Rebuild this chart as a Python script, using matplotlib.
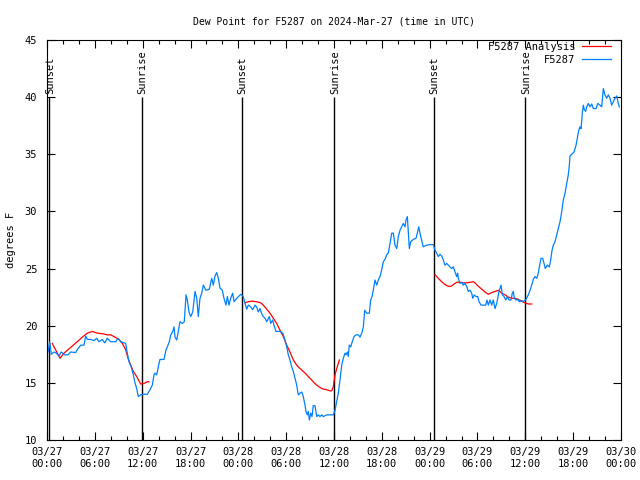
import matplotlib
matplotlib.use("Agg")
import matplotlib.pyplot as plt
import numpy as np

# hours since 2024-03-27 00:00 UTC
obs_hours = [0.13, 0.34, 0.54, 0.88, 1.17, 1.5, 1.79, 2.22, 2.63, 2.97, 3.6, 3.8, 4.23, 4.64, 4.85,
             5.06, 5.48, 5.9, 6.23, 6.52, 6.94, 7.24, 7.56, 7.99, 8.62, 8.91, 9.24, 9.87, 10.07, 10.29,
             10.57, 10.83, 11.0, 11.25, 11.45, 11.75, 12.17, 12.58, 12.92, 13.21, 13.42, 13.55, 13.76,
             13.96, 14.17, 14.68, 14.93, 15.09, 15.34, 15.52, 15.77, 15.93, 16.06, 16.27, 16.47, 16.68,
             16.97, 17.22, 17.44, 17.6, 17.81, 18.03, 18.28, 18.57, 18.78, 18.98, 19.19, 19.41, 19.61,
             19.94, 20.36, 20.66, 20.86, 21.07, 21.29, 21.49, 21.7, 21.99, 22.2, 22.45, 22.62, 22.83,
             23.04, 23.29, 23.46, 23.8, 24.3, 24.62, 24.84, 25.05, 25.25, 25.55, 25.8, 26.09, 26.3,
             26.5, 26.72, 26.93, 27.13, 27.35, 27.56, 27.89, 28.06, 28.31, 28.47, 28.73, 29.23, 29.57,
             29.85, 30.07, 30.27, 30.48, 30.69, 30.9, 31.11, 31.32, 31.52, 31.74, 31.95, 32.15, 32.36,
             32.49, 32.65, 32.78, 32.9, 33.08, 33.24, 33.4, 33.62, 33.83, 34.03, 34.24, 34.46, 34.66,
             35.08, 35.91, 36.0, 36.13, 36.34, 36.54, 36.75, 36.97, 37.17, 37.38, 37.51, 37.67, 37.79,
             37.92, 38.1, 38.22, 38.51, 38.76, 39.05, 39.26, 39.48, 39.68, 39.85, 40.1, 40.43, 40.6,
             40.77, 40.93, 41.14, 41.36, 41.56, 41.77, 41.98, 42.19, 42.4, 42.61, 42.81, 43.03, 43.24,
             43.44, 43.65, 43.87, 44.07, 44.28, 44.49, 44.69, 44.91, 45.03, 45.2, 45.32, 45.45, 45.62,
             45.95, 46.29, 46.45, 46.63, 46.88, 47.2, 47.63, 48.04, 48.46, 48.67, 48.88, 49.08, 49.3,
             49.51, 49.71, 49.92, 50.14, 50.34, 50.55, 50.76, 50.97, 51.18, 51.39, 51.52, 51.59, 51.81,
             52.02, 52.22, 52.43, 52.64, 52.85, 53.06, 53.27, 53.4, 53.6, 53.81, 54.03, 54.19, 54.44,
             54.73, 55.03, 55.19, 55.36, 55.57, 55.78, 55.98, 56.2, 56.41, 56.7, 56.95, 57.12, 57.33,
             57.54, 57.74, 57.95, 58.2, 58.37, 58.49, 58.62, 58.79, 59.04, 59.24, 59.55, 59.75, 59.96,
             60.09, 60.37, 60.59, 60.8, 61.0, 61.22, 61.43, 61.63, 61.76, 61.97, 62.18, 62.34, 62.51,
             62.76, 63.01, 63.18, 63.35, 63.51, 63.72, 63.94, 64.14, 64.35, 64.56, 64.76, 64.98, 65.19,
             65.39, 65.52, 65.6, 65.82, 66.11, 66.36, 66.52, 66.7, 66.86, 66.99, 67.15, 67.27, 67.4,
             67.57, 67.7, 67.9, 68.11, 68.33, 68.53, 68.87, 69.08, 69.37, 69.58, 69.78, 69.99, 70.2,
             70.41, 70.62, 70.83, 71.04, 71.25, 71.46, 71.66, 71.79]
obs_dewpt = [17.7, 18.6, 17.5, 17.7, 17.6, 17.35, 17.7, 17.45, 17.45, 17.7, 17.65, 17.9, 18.3, 18.3, 19.1,
             18.8, 18.8, 18.7, 18.9, 18.6, 18.8, 18.5, 18.9, 18.6, 18.6, 18.9, 18.6, 18.45, 17.6, 16.85,
             16.4, 15.7, 15.1, 14.5, 13.8, 13.95, 14.0, 14.0, 14.4, 14.8, 15.7, 15.85, 15.7,
             16.4, 17.05, 17.05, 17.9, 18.15, 18.6, 19.2, 19.5, 19.9, 19.0, 18.75, 19.5, 20.35,
             20.2, 20.35, 22.7, 22.25, 21.2, 20.8, 21.2, 23.0, 22.4, 20.8, 22.4, 22.85, 23.55,
             23.1, 23.2, 24.15, 23.55, 24.35, 24.65, 24.15, 23.3, 23.1, 22.4, 21.8, 22.55, 21.8,
             22.4, 22.85, 22.1, 22.4, 22.75, 22.55, 21.95, 21.45, 21.8, 21.65, 21.4, 21.8, 21.65,
             21.2, 21.5, 21.05, 20.8, 20.65, 20.35, 20.8, 20.2, 20.5, 20.05, 19.5, 19.5, 19.35,
             18.75, 18.15, 17.45, 17.0, 16.4, 16.0, 15.4, 14.8, 13.95, 14.1, 14.2, 13.8, 13.05,
             12.5, 12.2, 12.5, 11.75, 12.35, 12.05, 13.0, 13.0, 12.05, 12.2, 12.05, 12.2, 12.05,
             12.2, 12.2, 12.35, 12.6, 13.35, 14.1, 15.25, 16.55, 17.15, 17.6, 17.45, 17.7, 17.3,
             18.3, 18.15, 18.45, 19.05, 19.2, 19.2, 19.0, 19.35, 19.9, 21.35, 21.1, 21.1, 22.25,
             22.55, 23.1, 24.0, 23.55, 24.0, 24.3, 24.9, 25.6, 25.8, 26.2, 26.35, 27.2, 28.1,
             28.1, 27.05, 26.75, 27.8, 28.35, 28.65, 28.95, 28.65, 29.25, 29.55, 28.2, 26.75, 27.35,
             27.55, 27.65, 28.1, 28.65, 27.8, 26.9, 27.05, 27.1, 27.1, 26.6, 26.35, 26.05, 26.25,
             26.1, 25.75, 25.3, 25.45, 25.3, 25.15, 25.0, 25.15, 24.7, 24.3, 24.6, 24.15, 23.7,
             23.8, 23.55, 23.7, 23.45, 23.0, 23.1, 22.85, 22.4, 22.7, 22.55, 22.55, 22.1, 21.8,
             21.8, 21.8, 22.25, 21.8, 22.25, 21.8, 22.25, 21.5, 21.95, 23.0, 23.55, 22.7, 22.55,
             22.25, 22.55, 22.25, 22.25, 22.85, 23.0, 22.4, 22.25, 22.3, 22.1, 22.2, 22.1, 22.25,
             22.3, 22.7, 23.1, 23.55, 24.05, 24.3, 24.15, 24.6, 25.15, 25.9, 25.9, 25.45, 25.0,
             25.3, 25.15, 25.75, 26.6, 27.05, 27.35, 27.95, 28.5, 29.1, 29.95, 31.0, 31.6, 32.45,
             33.2, 34.05, 34.85, 35.0, 35.2, 35.8, 36.4, 37.1, 37.4, 37.25, 38.6, 39.3, 38.9,
             38.75, 39.15, 39.45, 39.15, 39.4, 39.0, 39.0, 39.45, 39.3, 39.15, 40.75, 40.2, 39.9,
             40.2, 39.9, 39.3, 39.6, 39.9, 40.1, 39.45, 39.15]

# analysis, three night-time pieces (NaN = gap)
ana_hours = [0.66, 1.63, 2.13, 2.97, 3.8, 4.43, 5.06, 5.68, 6.31, 6.94, 7.56, 7.99, 8.4, 9.03, 9.45,
             9.87, 10.16, 10.5, 10.83, 11.25, 11.75, 12.17, 12.58, 12.8, 18.0,
             24.84, 25.25, 25.68, 26.3, 26.81, 27.13, 27.56, 27.97, 28.39, 28.81, 29.23, 29.64, 30.07,
             30.48, 30.9, 31.32, 31.74, 32.15, 32.58, 32.99, 33.4, 33.83, 34.24, 34.66, 35.08, 35.5,
             35.71, 35.91, 36.13, 36.34, 36.54, 36.67, 42.0,
             48.67, 49.08, 49.51, 49.92, 50.34, 50.68, 50.97, 51.39, 51.81, 52.22, 52.64, 53.06, 53.47,
             53.69, 54.1, 54.53, 54.94, 55.36, 55.78, 56.2, 56.61, 57.04, 57.45, 57.87, 58.29, 58.71,
             59.12, 59.55, 59.96, 60.37, 60.8]
ana_dewpt = [18.45, 17.15, 17.6, 18.1, 18.6, 19.0, 19.35, 19.5, 19.35, 19.3, 19.2, 19.2, 19.05, 18.8, 18.45,
             17.9, 17.15, 16.55, 16.0, 15.55, 14.9, 14.95, 15.1, 15.1, np.nan,
             22.0, 22.1, 22.15, 22.1, 22.0, 21.8, 21.45, 21.1, 20.65, 20.2, 19.6, 19.05, 18.3,
             17.7, 17.0, 16.55, 16.25, 16.0, 15.7, 15.4, 15.1, 14.8, 14.6, 14.45, 14.4, 14.3,
             14.3, 14.65, 15.7, 16.25, 16.7, 17.0, np.nan,
             24.45, 24.15, 23.85, 23.6, 23.45, 23.45, 23.6, 23.8, 23.8, 23.75, 23.75, 23.8, 23.85,
             23.75, 23.45, 23.2, 22.95, 22.75, 22.9, 23.0, 23.1, 22.85, 22.7, 22.5, 22.4, 22.4,
             22.3, 22.15, 22.0, 21.9, 21.9]

sun_hours = [0.3, 11.9, 24.4, 36.05, 48.5, 60.0]
sun_labels = ["Sunset", "Sunrise", "Sunset", "Sunrise", "Sunset", "Sunrise"]

tick_hours = list(range(0, 73, 6))
tick_labels = ["03/27\n00:00", "03/27\n06:00", "03/27\n12:00", "03/27\n18:00",
               "03/28\n00:00", "03/28\n06:00", "03/28\n12:00", "03/28\n18:00",
               "03/29\n00:00", "03/29\n06:00", "03/29\n12:00", "03/29\n18:00",
               "03/30\n00:00"]

plt.rcParams['font.family'] = 'DejaVu Sans Mono'
plt.rcParams['font.size'] = 7.5

fig = plt.figure(figsize=(6.4, 4.8), dpi=100)
ax = fig.add_axes([47 / 640, 1 - 440 / 480, 574 / 640, 400 / 480])

ax.vlines(sun_hours, 10, 40, colors='black', linewidth=1)
for h, lab in zip(sun_hours, sun_labels):
    ax.text(h + 0.1, 40.3, lab, rotation=90, ha='center', va='bottom')

ax.plot(ana_hours, ana_dewpt, color='#ff0000', linewidth=0.9, label='F5287 Analysis')
ax.plot(obs_hours, obs_dewpt, color='#0080ff', linewidth=0.9, label='F5287')

ax.set_xlim(0, 72)
ax.set_ylim(10, 45)
ax.set_xticks(tick_hours)
ax.set_xticklabels(tick_labels)
ax.set_xticks(range(0, 73, 2), minor=True)
ax.set_yticks(range(10, 46, 5))
ax.tick_params(which='both', direction='in', top=True, right=True, width=0.8)
ax.tick_params(which='major', length=6, pad=5)
ax.tick_params(which='minor', length=3)
ax.tick_params(axis='y', pad=7)

ax.set_title("Dew Point for F5287 on 2024-Mar-27 (time in UTC)", fontsize=7, pad=11)
ax.set_ylabel("degrees F", labelpad=6)

ax.legend(loc='upper right', bbox_to_anchor=(0.982, 0.995), frameon=False, markerfirst=False,
          handlelength=2.8, handletextpad=0.6, labelspacing=0.25, borderpad=0, borderaxespad=0)

plt.savefig("out.png", dpi=100)
